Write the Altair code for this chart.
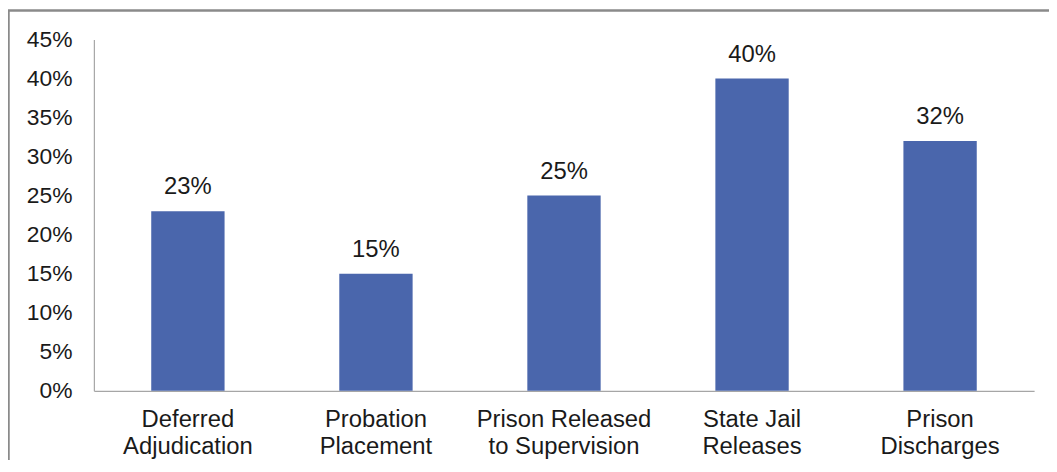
import altair as alt
import pandas as pd

categories = ["Deferred|Adjudication", "Probation|Placement", "Prison Released|to Supervision",
              "State Jail|Releases", "Prison|Discharges"]
values = [0.23, 0.15, 0.25, 0.40, 0.32]
y_ticks = [0, 0.05, 0.10, 0.15, 0.20, 0.25, 0.30, 0.35, 0.40, 0.45]

df = pd.DataFrame({"category": categories, "value": values})

W, H = 947, 354
FONT = "Liberation Sans"

x_enc = alt.X("category:N", sort=categories, title=None,
              scale=alt.Scale(paddingInner=0.61, paddingOuter=0.305),
              axis=alt.Axis(labelExpr="split(datum.label, '|')", labelAngle=0,
                            ticks=False, domainColor="#a6a6a6", domainWidth=1.2,
                            labelFont=FONT, labelFontSize=24, labelColor="#1a1a1a",
                            labelPadding=17, labelLineHeight=27, labelBaseline="top"))
y_enc = alt.Y("value:Q", title=None,
              scale=alt.Scale(domain=[0, 0.45], nice=False),
              axis=alt.Axis(values=y_ticks, format=".0%", ticks=False, grid=False,
                            labelOverlap=False,
                            domainColor="#a6a6a6", domainWidth=1.2,
                            labelFont=FONT, labelFontSize=23, labelColor="#1a1a1a",
                            labelPadding=22))

base = alt.Chart(df).encode(x=x_enc, y=y_enc)

border = alt.Chart(pd.DataFrame({"a": [0]})).mark_rect(
    fill=None, stroke="#8a8a8a", strokeWidth=2.5
).encode(
    x=alt.value(-86), x2=alt.value(W + 40),
    y=alt.value(-29), y2=alt.value(H + 120)
)

bars = base.mark_bar(color="#4A66AC")

labels = base.mark_text(baseline="bottom", dy=-12, font=FONT, fontSize=24,
                        color="#1a1a1a").encode(
    text=alt.Text("value:Q", format=".0%")
)

chart = alt.layer(border, bars, labels).properties(
    width=W, height=H,
    autosize=alt.AutoSizeParams(type="none"),
    padding={"left": 86.5, "top": 30, "right": 15, "bottom": 68},
    background="white"
).configure_view(stroke=None).configure_axis(labelOverlap=False)

chart.save("out.html", embed_options={"renderer": "svg", "actions": False})
